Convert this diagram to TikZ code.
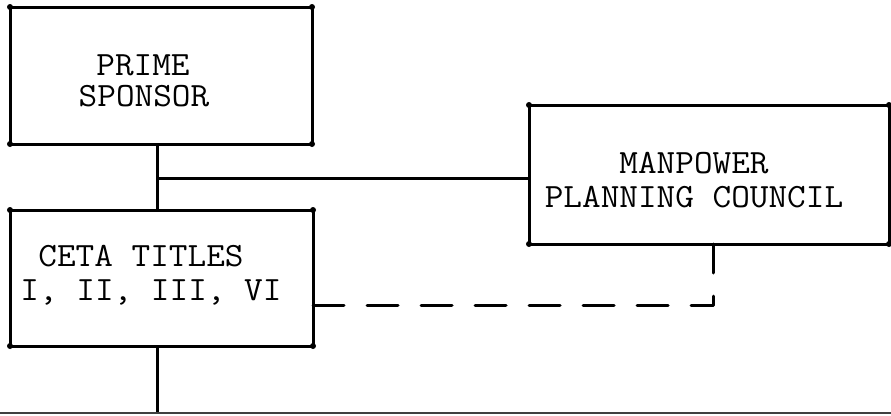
\documentclass[tikz,border=0pt]{standalone}
\begin{document}
\begin{tikzpicture}[x=1pt,y=-1pt,
  boxstyle/.style={draw, rectangle, line width=3pt, inner sep=0pt, outer sep=0pt},
  labelstyle/.style={anchor=base, inner sep=0pt, font=\fontsize{34}{34}\selectfont\ttfamily},
  conn/.style={line width=3pt},
  dashconn/.style={line width=3pt, dash pattern=on 31pt off 23pt, line cap=round, line join=round},
  basestyle/.style={line width=2pt, black!75}]
\useasboundingbox (0,0) rectangle (891,415);
% boxes
\node[boxstyle, minimum width=302pt, minimum height=137pt] (ps) at (161,75.5) {};
\node[boxstyle, minimum width=303pt, minimum height=136pt] (ceta) at (161.5,278) {};
\node[boxstyle, minimum width=360pt, minimum height=139pt] (mpc) at (709,174.5) {};
% corner dots
\foreach \b in {ps,ceta,mpc}
  \foreach \a in {north west,north east,south west,south east}
    \fill (\b.\a) circle (3);
% labels
\newcommand{\wide}[1]{\scalebox{1.065}[1]{#1}}
\node[labelstyle] (t1) at (143,75) {\wide{PRIME}};
\node[labelstyle] (t2) at (144,106) {\wide{SPONSOR}};
\node[labelstyle] (t3) at (141,266) {\wide{CETA TITLES}};
\node[labelstyle] (t4) at (151,300) {\wide{I, II, III, VI}};
\node[labelstyle] (t5) at (694,173) {\wide{MANPOWER}};
\node[labelstyle] (t6) at (694,207) {\wide{PLANNING COUNCIL}};
% coordinates
\coordinate (j) at (157,178);
\coordinate (d) at (713,305);
\coordinate (bl) at (0,413);
\coordinate (br) at (891,413);
% connectors
\draw[conn] (j |- ps.south) -- (j |- ceta.north);
\draw[conn] (j) -- (j -| mpc.west);
\draw[dashconn] (d -| ceta.east) -- (d) -- (d |- mpc.south);
\draw[conn] (j |- ceta.south) -- (j |- bl);
\draw[basestyle] (bl) -- (br);
\end{tikzpicture}
\end{document}
